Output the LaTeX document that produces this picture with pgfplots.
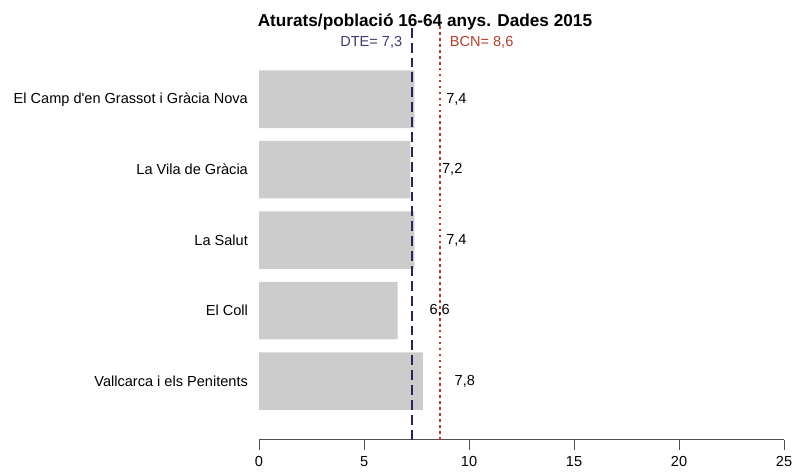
\documentclass[border=0pt]{standalone}
\usepackage{fontspec}
\setmainfont{Liberation Sans}[Ligatures=TeXOff]
\usepackage{pgfplots}
\pgfplotsset{compat=1.18}
\definecolor{bargray}{RGB}{204,204,204}
\definecolor{dteline}{RGB}{40,38,88}
\definecolor{dtetext}{RGB}{62,60,110}
\definecolor{bcnline}{RGB}{178,58,40}
\definecolor{bcntext}{RGB}{180,62,44}
\definecolor{axisgray}{RGB}{80,80,80}
\begin{document}
\fontsize{11pt}{13pt}\selectfont
\begin{tikzpicture}
\begin{axis}[
  scale only axis, width=396.75pt, height=313.5pt,
  xmin=0, xmax=25, ymin=0.169, ymax=6.056,
  clip=false,
  axis x line*=bottom, axis y line*=left,
  y axis line style={draw=none},
  x axis line style={axisgray, line width=0.8pt},
  xtick={0,5,10,15,20,25},
  tick align=outside,
  major tick length=7.5pt,
  xtick style={axisgray, line width=0.8pt},
  ytick={1,2,3,4,5},
  yticklabels={Vallcarca i els Penitents, El Coll, La Salut, La Vila de Gràcia, El Camp d'en Grassot i Gràcia Nova},
  ytick style={draw=none},
  yticklabel style={inner sep=0pt, xshift=-8.25pt+7.5pt},
  xticklabel style={inner sep=0pt, yshift=-5.25pt},
  tick label style={font=\fontsize{11pt}{13pt}\selectfont},
  /pgf/number format/assume math mode=true,
]
\addplot[xbar, bar width=0.817, fill=bargray, draw=none] coordinates {(7.8,1) (6.6,2) (7.4,3) (7.2,4) (7.4,5)};
\addplot[only marks, mark=none, nodes near coords, point meta=explicit symbolic,
  every node near coord/.append style={anchor=center, font=\fontsize{11pt}{13pt}\selectfont}]
  table[meta=label] {
x y label
9.8 1 {7,8}
8.6 2 {6,6}
9.4 3 {7,4}
9.2 4 {7,2}
9.4 5 {7,4}
};
\addplot[dteline, line width=1.5pt, dash pattern=on 7.5pt off 3.75pt] coordinates {(7.3,0.169) (7.3,6.056)};
\addplot[bcnline, line width=1.5pt, dash pattern=on 2pt off 2.5pt] coordinates {(8.6,0.169) (8.6,6.056)};
\node[anchor=base east, text=dtetext, inner sep=0pt, xshift=-7.5pt] at (axis cs:7.3,5.746) {DTE= 7,3};
\node[anchor=base west, text=bcntext, inner sep=0pt, xshift=7.5pt] at (axis cs:8.6,5.746) {BCN= 8,6};
\node[anchor=base, inner sep=0pt, font=\bfseries\fontsize{13pt}{15pt}\selectfont, yshift=-1.5pt] at (axis cs:7.9,6.056) {Aturats/població 16-64 anys. Dades 2015};
\coordinate (O) at (axis cs:0,0.169);
\end{axis}
\pgfresetboundingbox
\path[use as bounding box] ([shift={(-195.75pt,-24pt)}]O) rectangle ([shift={(405.75pt,332.25pt)}]O);
\end{tikzpicture}
\end{document}
